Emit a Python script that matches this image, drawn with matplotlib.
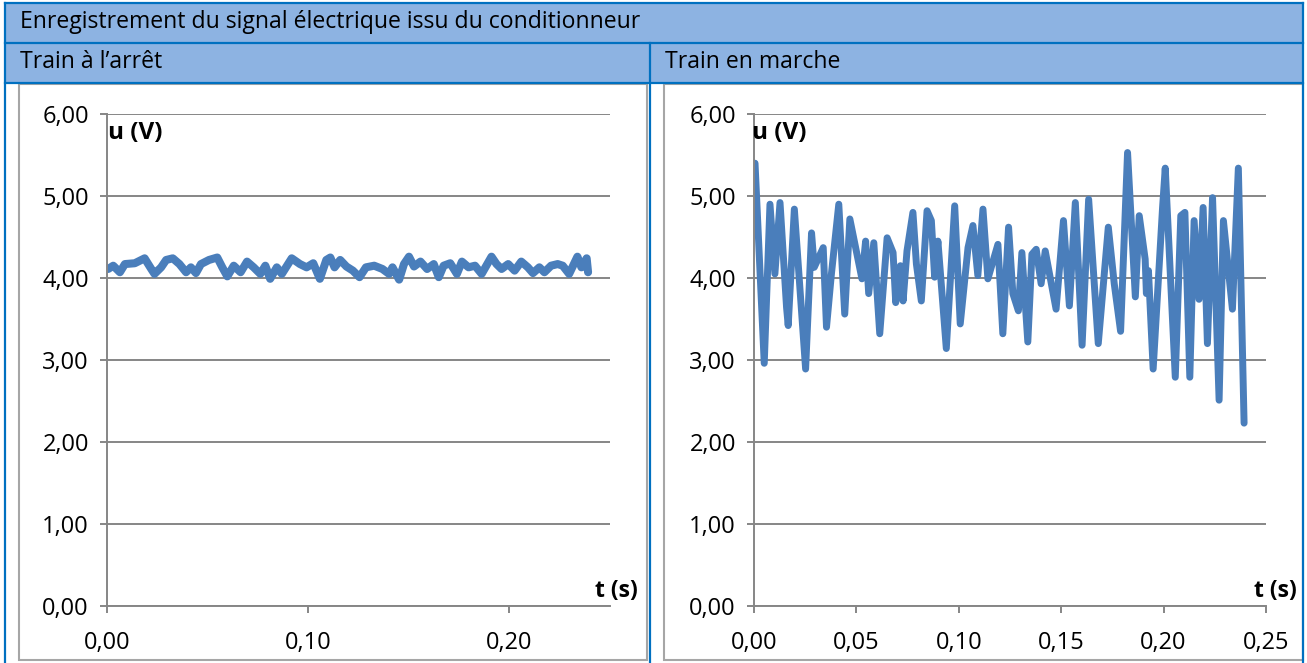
import matplotlib.pyplot as plt
from matplotlib.patches import Rectangle
from matplotlib.ticker import FuncFormatter, MultipleLocator

# Train à l'arrêt : signal
t_arret = [0.0006, 0.0031, 0.0064, 0.0089, 0.0138, 0.0187, 0.0220, 0.0236, 0.0269, 0.0294,
           0.0327, 0.0360, 0.0393, 0.0417, 0.0442, 0.0467, 0.0507, 0.0548, 0.0573, 0.0598,
           0.0630, 0.0664, 0.0696, 0.0729, 0.0762, 0.0787, 0.0811, 0.0844, 0.0869, 0.0918,
           0.0959, 0.0992, 0.1025, 0.1058, 0.1090, 0.1110, 0.1131, 0.1159, 0.1190, 0.1222,
           0.1255, 0.1287, 0.1328, 0.1369, 0.1402, 0.1419, 0.1452, 0.1476, 0.1501, 0.1526,
           0.1558, 0.1591, 0.1624, 0.1649, 0.1673, 0.1706, 0.1739, 0.1764, 0.1797, 0.1829,
           0.1862, 0.1911, 0.1936, 0.1961, 0.1994, 0.2026, 0.2059, 0.2092, 0.2117, 0.2149,
           0.2174, 0.2207, 0.2240, 0.2265, 0.2297, 0.2338, 0.2358, 0.2384, 0.2391]
u_arret = [4.11, 4.15, 4.07, 4.17, 4.18, 4.24, 4.11, 4.05, 4.13, 4.22,
           4.24, 4.17, 4.07, 4.13, 4.06, 4.17, 4.22, 4.25, 4.13, 4.02,
           4.15, 4.07, 4.20, 4.13, 4.05, 4.15, 3.99, 4.13, 4.05, 4.24,
           4.17, 4.13, 4.18, 3.99, 4.22, 4.25, 4.13, 4.22, 4.14, 4.09,
           4.01, 4.13, 4.15, 4.11, 4.05, 4.13, 3.98, 4.17, 4.26, 4.14,
           4.20, 4.11, 4.17, 4.01, 4.15, 4.18, 4.05, 4.20, 4.13, 4.15,
           4.05, 4.26, 4.17, 4.11, 4.17, 4.09, 4.20, 4.13, 4.06, 4.13,
           4.07, 4.15, 4.17, 4.15, 4.05, 4.26, 4.13, 4.24, 4.07]

# Train en marche : signal
t_marche = [0.0005, 0.0050, 0.0078, 0.0102, 0.0127, 0.0159, 0.0167, 0.0197, 0.0252, 0.0281,
            0.0294, 0.0338, 0.0354, 0.0378, 0.0414, 0.0443, 0.0468, 0.0527, 0.0545, 0.0560,
            0.0585, 0.0614, 0.0650, 0.0679, 0.0692, 0.0715, 0.0728, 0.0747, 0.0776, 0.0793,
            0.0817, 0.0845, 0.0866, 0.0882, 0.0898, 0.0939, 0.0980, 0.1007, 0.1045, 0.1069,
            0.1093, 0.1118, 0.1142, 0.1191, 0.1215, 0.1243, 0.1264, 0.1291, 0.1308, 0.1337,
            0.1357, 0.1378, 0.1402, 0.1422, 0.1475, 0.1511, 0.1540, 0.1569, 0.1602, 0.1634,
            0.1681, 0.1730, 0.1759, 0.1790, 0.1824, 0.1862, 0.1881, 0.1910, 0.1916, 0.1926,
            0.1949, 0.1995, 0.2008, 0.2057, 0.2084, 0.2104, 0.2128, 0.2149, 0.2173, 0.2193,
            0.2214, 0.2239, 0.2271, 0.2292, 0.2336, 0.2365, 0.2393]
u_marche = [5.40, 2.96, 4.90, 4.05, 4.92, 3.64, 3.42, 4.84, 2.89, 4.55,
            4.13, 4.37, 3.40, 4.05, 4.90, 3.56, 4.72, 3.99, 4.45, 3.81,
            4.43, 3.32, 4.49, 4.31, 3.70, 4.15, 3.72, 4.33, 4.80, 4.17,
            3.72, 4.82, 4.70, 4.01, 4.45, 3.14, 4.88, 3.44, 4.37, 4.64,
            4.03, 4.84, 3.99, 4.41, 3.32, 4.62, 3.81, 3.60, 4.31, 3.22,
            4.29, 4.35, 3.93, 4.33, 3.62, 4.70, 3.66, 4.92, 3.18, 4.96,
            3.20, 4.62, 3.93, 3.35, 5.53, 3.77, 4.76, 4.23, 3.81, 4.09,
            2.89, 4.86, 5.34, 2.79, 4.76, 4.80, 2.79, 4.70, 3.74, 4.86,
            3.20, 4.98, 2.51, 4.70, 3.62, 5.34, 2.23]

BORDER = '#0070C0'
HEAD = '#8DB3E2'
LINE = '#4A7EBB'
GRID = '#868686'

plt.rcParams['font.family'] = ['Open Sans', 'DejaVu Sans']

W, H = 1307, 663
fig = plt.figure(figsize=(W / 100, H / 100), dpi=100)

# table layout drawn in pixel coordinates
bg = fig.add_axes([0, 0, 1, 1])
bg.set_xlim(0, W)
bg.set_ylim(H, 0)
bg.axis('off')
bg.add_patch(Rectangle((5, 3), 1298, 80, facecolor=HEAD, edgecolor='none'))
bg.add_patch(Rectangle((19, 84), 628, 576, facecolor='white', edgecolor='#A6A6A6', lw=1.5))
bg.add_patch(Rectangle((664, 84), 639, 576, facecolor='white', edgecolor='#A6A6A6', lw=1.5))
for y in (3, 43, 83):
    bg.plot([5, 1303], [y, y], color=BORDER, lw=1.6)
bg.plot([5, 5], [3, H], color=BORDER, lw=1.6)
bg.plot([1303, 1303], [3, H], color=BORDER, lw=1.6)
bg.plot([650, 650], [43, H], color=BORDER, lw=1.6)
bg.text(20, 22, 'Enregistrement du signal électrique issu du conditionneur',
        fontsize=16.6, va='center', ha='left')
bg.text(20, 62, 'Train à l\u2019arrêt', fontsize=16.6, va='center', ha='left')
bg.text(665, 62, 'Train en marche', fontsize=16.6, va='center', ha='left')

fmt = FuncFormatter(lambda v, p: f'{v:.2f}'.replace('.', ','))
FS = 17


def style(ax, xstep, label_x):
    ax.set_ylim(0, 6)
    ax.set_xlim(0, 0.25)
    ax.yaxis.set_major_locator(MultipleLocator(1))
    ax.xaxis.set_major_locator(MultipleLocator(xstep))
    ax.xaxis.set_major_formatter(fmt)
    ax.yaxis.set_major_formatter(fmt)
    ax.grid(axis='y', color=GRID, lw=1.4)
    ax.set_axisbelow(True)
    for s in ('top', 'right'):
        ax.spines[s].set_visible(False)
    for s in ('left', 'bottom'):
        ax.spines[s].set_color(GRID)
        ax.spines[s].set_linewidth(1.4)
    ax.tick_params(axis='y', length=5, width=1.4, color=GRID, pad=8, labelsize=FS)
    ax.tick_params(axis='x', length=5, width=1.4, color=GRID, pad=13, labelsize=FS)
    ax.set_facecolor('none')
    ax.text(label_x, 0.961, 'u (V)', transform=ax.transAxes, fontsize=17.5,
            fontweight='bold', ha='left', va='center')


ax1 = fig.add_axes([107 / W, 57 / H, 503 / W, 492 / H])
style(ax1, 0.1, 0.002)
ax1.set_xticks([0, 0.1, 0.2])
ax1.plot(t_arret, u_arret, color=LINE, lw=5.8, solid_joinstyle='round', solid_capstyle='round')
ax1.text(1.056, 0.03, 't (s)', transform=ax1.transAxes, fontsize=16.5,
         fontweight='bold', ha='right', va='center')

ax2 = fig.add_axes([754 / W, 57 / H, 512 / W, 492 / H])
style(ax2, 0.05, -0.004)
ax2.plot(t_marche, u_marche, color=LINE, lw=5.0, solid_joinstyle='round', solid_capstyle='round')
ax2.text(1.06, 0.03, 't (s)', transform=ax2.transAxes, fontsize=16.5,
         fontweight='bold', ha='right', va='center')

fig.savefig('out.png', dpi=100)
